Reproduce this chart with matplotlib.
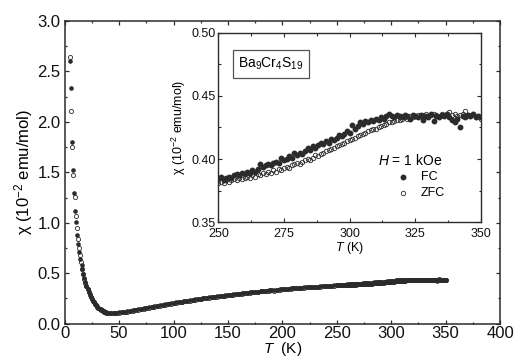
import matplotlib
matplotlib.use("Agg")
import matplotlib.pyplot as plt
import numpy as np
from matplotlib.ticker import MultipleLocator

plt.rcParams["font.family"] = ["Liberation Sans", "DejaVu Sans"]
plt.rcParams["mathtext.fontset"] = "custom"
plt.rcParams["mathtext.rm"] = "Liberation Sans"
plt.rcParams["mathtext.it"] = "Liberation Sans:italic"

# low temperature tail (FC and ZFC taken at slightly different T)
t_fc_low = [5.0, 5.5, 6.5, 7.5, 8.5, 9.5, 10.5, 11.5, 12.5, 13.5, 14.5, 15.5]
fc_low = [2.60, 2.34, 1.80, 1.52, 1.30, 1.12, 1.01, 0.875, 0.79, 0.71, 0.64, 0.58]
t_zfc_low = [5.0, 6.0, 7.0, 8.0, 9.0, 10.0, 11.0, 12.0, 13.0, 14.0, 15.0]
zfc_low = [2.64, 2.11, 1.75, 1.47, 1.26, 1.07, 0.95, 0.84, 0.75, 0.68, 0.61]

# 16 K - 247.5 K
t_mid = [16, 17, 18, 19, 20, 21, 22, 23, 24, 25, 26, 27, 28, 29, 30, 31, 32, 33, 34, 35, 36, 37, 38,
         40, 42.5, 45, 47.5, 50, 52.5, 55, 57.5, 60, 62.5, 65, 67.5, 70, 72.5, 75, 77.5,
         80, 82.5, 85, 87.5, 90, 92.5, 95, 97.5, 100, 102.5, 105, 107.5, 110, 112.5, 115, 117.5,
         120, 122.5, 125, 127.5, 130, 132.5, 135, 137.5, 140, 142.5, 145, 147.5, 150, 152.5, 155, 157.5,
         160, 162.5, 165, 167.5, 170, 172.5, 175, 177.5, 180, 182.5, 185, 187.5, 190, 192.5, 195, 197.5,
         200, 202.5, 205, 207.5, 210, 212.5, 215, 217.5, 220, 222.5, 225, 227.5, 230, 232.5, 235, 237.5,
         240, 242.5, 245, 247.5]
fc_mid = [0.545, 0.495, 0.450, 0.412, 0.378, 0.346, 0.318, 0.292, 0.268, 0.248, 0.229, 0.212, 0.197,
          0.183, 0.171, 0.160, 0.150, 0.142, 0.134, 0.127, 0.121, 0.116, 0.112,
          0.108, 0.106, 0.105, 0.107, 0.111, 0.114, 0.119, 0.122, 0.127, 0.132, 0.137, 0.142, 0.147, 0.152,
          0.157, 0.162, 0.168, 0.172, 0.177, 0.182, 0.187, 0.192, 0.197, 0.201, 0.206, 0.210, 0.215, 0.219,
          0.223, 0.228, 0.232, 0.236, 0.240, 0.244, 0.248, 0.252, 0.256, 0.260, 0.263, 0.267, 0.271, 0.274,
          0.278, 0.282, 0.285, 0.288, 0.292, 0.295, 0.298, 0.301, 0.304, 0.307, 0.310, 0.313, 0.316, 0.318,
          0.321, 0.324, 0.327, 0.329, 0.332, 0.334, 0.337, 0.339, 0.342, 0.344, 0.347, 0.349, 0.351, 0.353,
          0.355, 0.357, 0.359, 0.361, 0.363, 0.364, 0.366, 0.368, 0.370, 0.371, 0.373, 0.375, 0.377, 0.379]
zfc_mid = [0.540, 0.490, 0.446, 0.408, 0.374, 0.343, 0.315, 0.289, 0.266, 0.246, 0.227, 0.210, 0.195,
           0.181, 0.169, 0.158, 0.148, 0.140, 0.132, 0.125, 0.119, 0.114, 0.110,
           0.106, 0.104, 0.103, 0.105, 0.108, 0.112, 0.116, 0.120, 0.125, 0.130, 0.135, 0.140, 0.145, 0.150,
           0.155, 0.160, 0.165, 0.170, 0.175, 0.180, 0.185, 0.190, 0.194, 0.199, 0.204, 0.208, 0.212, 0.217,
           0.221, 0.225, 0.229, 0.234, 0.238, 0.242, 0.246, 0.250, 0.253, 0.257, 0.261, 0.265, 0.268, 0.272,
           0.275, 0.279, 0.283, 0.286, 0.289, 0.293, 0.296, 0.299, 0.302, 0.305, 0.308, 0.311, 0.313, 0.316,
           0.319, 0.322, 0.324, 0.327, 0.329, 0.326, 0.334, 0.337, 0.339, 0.342, 0.344, 0.346, 0.349, 0.351,
           0.353, 0.355, 0.357, 0.359, 0.360, 0.362, 0.364, 0.366, 0.368, 0.369, 0.371, 0.373, 0.375, 0.377]

# 250 K - 350 K (also shown in the inset)
t_hi = [250, 251, 252, 253, 254, 255, 256, 257, 258, 259, 260, 261, 262, 263, 264, 265, 266, 267, 268, 269,
        270, 271, 272, 273, 274, 275, 276, 277, 278, 279, 280, 281, 282, 283, 284, 285, 286, 287, 288, 289,
        290, 291, 292, 293, 294, 295, 296, 297, 298, 299, 300, 301, 302, 303, 304, 305, 306, 307, 308, 309,
        310, 311, 312, 313, 314, 315, 316, 317, 318, 319, 320, 321, 322, 323, 324, 325, 326, 327, 328, 329,
        330, 331, 332, 333, 334, 335, 336, 337, 338, 339, 340, 341, 342, 343, 344, 345, 346, 347, 348, 349, 350]
fc_hi = [0.384, 0.386, 0.383, 0.385, 0.386, 0.385, 0.387, 0.388, 0.387, 0.389,
         0.388, 0.390, 0.389, 0.391, 0.390, 0.392, 0.396, 0.394, 0.395, 0.396,
         0.395, 0.397, 0.398, 0.397, 0.401, 0.399, 0.400, 0.402, 0.401, 0.405,
         0.403, 0.405, 0.404, 0.406, 0.409, 0.407, 0.410, 0.409, 0.411, 0.413,
         0.412, 0.414, 0.413, 0.416, 0.415, 0.417, 0.419, 0.418, 0.420, 0.422,
         0.421, 0.427, 0.424, 0.426, 0.429, 0.428, 0.430, 0.429, 0.431, 0.430,
         0.432, 0.431, 0.433, 0.432, 0.434, 0.436, 0.434, 0.433, 0.435, 0.434,
         0.433, 0.435, 0.434, 0.432, 0.435, 0.434, 0.433, 0.435, 0.431, 0.434,
         0.433, 0.436, 0.430, 0.434, 0.433, 0.435, 0.434, 0.436, 0.433, 0.431,
         0.429, 0.432, 0.425, 0.434, 0.433, 0.435, 0.434, 0.436, 0.433, 0.434, 0.433]
zfc_hi = [0.381, 0.382, 0.381, 0.383, 0.382, 0.383, 0.384, 0.383, 0.385, 0.384,
          0.385, 0.386, 0.385, 0.387, 0.386, 0.388, 0.387, 0.389, 0.388, 0.390,
          0.389, 0.391, 0.390, 0.392, 0.391, 0.393, 0.394, 0.393, 0.395, 0.396,
          0.397, 0.396, 0.398, 0.399, 0.400, 0.399, 0.401, 0.403, 0.402, 0.404,
          0.405, 0.406, 0.407, 0.408, 0.409, 0.410, 0.411, 0.412, 0.413, 0.414,
          0.415, 0.416, 0.417, 0.418, 0.419, 0.420, 0.421, 0.422, 0.423, 0.424,
          0.424, 0.425, 0.426, 0.427, 0.428, 0.429, 0.429, 0.430, 0.431, 0.431,
          0.432, 0.433, 0.432, 0.434, 0.433, 0.434, 0.435, 0.434, 0.435, 0.436,
          0.434, 0.435, 0.436, 0.435, 0.434, 0.436, 0.435, 0.436, 0.437, 0.435,
          0.436, 0.434, 0.435, 0.436, 0.438, 0.435, 0.434, 0.436, 0.433, 0.434, 0.432]

t_fc = t_fc_low + t_mid + t_hi
fc = fc_low + fc_mid + fc_hi
t_zfc = t_zfc_low + t_mid + t_hi
zfc = zfc_low + zfc_mid + zfc_hi

ink = "#2b2b2b"

fig = plt.figure(figsize=(5.14, 3.59), dpi=100)
ax = fig.add_axes([0.1259, 0.0984, 0.8469, 0.8431])

ax.plot(t_fc, fc, "o", ms=2.3, color=ink, mec=ink, ls="none")
ax.plot(t_zfc, zfc, "o", ms=3.0, mfc="none", mec=ink, mew=0.6, ls="none")

ax.set_xlim(0, 400)
ax.set_ylim(0, 3.0)
ax.xaxis.set_major_locator(MultipleLocator(50))
ax.xaxis.set_minor_locator(MultipleLocator(25))
ax.yaxis.set_major_locator(MultipleLocator(0.5))
ax.yaxis.set_minor_locator(MultipleLocator(0.25))
ax.yaxis.set_major_formatter(plt.FormatStrFormatter("%.1f"))
ax.tick_params(which="both", direction="in", top=True, right=True, color=ink,
               labelsize=12, labelcolor="#111111", width=0.9)
ax.tick_params(which="major", length=2.6, pad=3)
ax.tick_params(axis="x", which="major", pad=2)
ax.tick_params(which="minor", length=1.6)
for s in ax.spines.values():
    s.set_linewidth(1.1)
    s.set_color(ink)
ax.set_xlabel("$T$  (K)", fontsize=11, labelpad=-1)
ax.set_ylabel("χ (10$^{-2}$ emu/mol)", fontsize=12, labelpad=2)

# inset
axi = fig.add_axes([0.4247, 0.3816, 0.5111, 0.5265])
axi.plot(t_hi, fc_hi, "o", ms=3.2, color=ink, ls="none")
axi.plot(t_hi, zfc_hi, "o", ms=3.2, mfc="none", mec=ink, mew=0.6, ls="none")
axi.set_xlim(250, 350)
axi.set_ylim(0.35, 0.50)
axi.xaxis.set_major_locator(MultipleLocator(25))
axi.xaxis.set_minor_locator(MultipleLocator(12.5))
axi.yaxis.set_major_locator(MultipleLocator(0.05))
axi.yaxis.set_minor_locator(MultipleLocator(0.025))
axi.yaxis.set_major_formatter(plt.FormatStrFormatter("%.2f"))
axi.tick_params(which="both", direction="in", top=True, right=True, color=ink,
                labelsize=9, labelcolor="#111111", width=0.8)
axi.tick_params(which="major", length=3, pad=2)
axi.tick_params(axis="x", which="major", pad=4)
axi.tick_params(which="minor", length=1.8)
for s in axi.spines.values():
    s.set_linewidth(1.0)
    s.set_color(ink)
axi.set_xlabel("$T$ (K)", fontsize=9, labelpad=0.5)
axi.set_ylabel("χ (10$^{-2}$ emu/mol)", fontsize=9, labelpad=2)

axi.text(0.200, 0.836, "Ba$_9$Cr$_4$S$_{19}$", transform=axi.transAxes, fontsize=10,
         ha="center", va="center",
         bbox=dict(boxstyle="square,pad=0.4", fc="white", ec="#555555", lw=0.9))
axi.text(0.608, 0.328, "$H$ = 1 kOe", transform=axi.transAxes, fontsize=10,
         ha="left", va="center")
axi.plot([0.703], [0.240], "o", ms=3.2, color=ink, transform=axi.transAxes)
axi.plot([0.703], [0.153], "o", ms=3.2, mfc="none", mec=ink, mew=0.6, transform=axi.transAxes)
axi.text(0.772, 0.240, "FC", transform=axi.transAxes, fontsize=9, ha="left", va="center")
axi.text(0.772, 0.153, "ZFC", transform=axi.transAxes, fontsize=9, ha="left", va="center")

fig.savefig("out.png", dpi=100)
